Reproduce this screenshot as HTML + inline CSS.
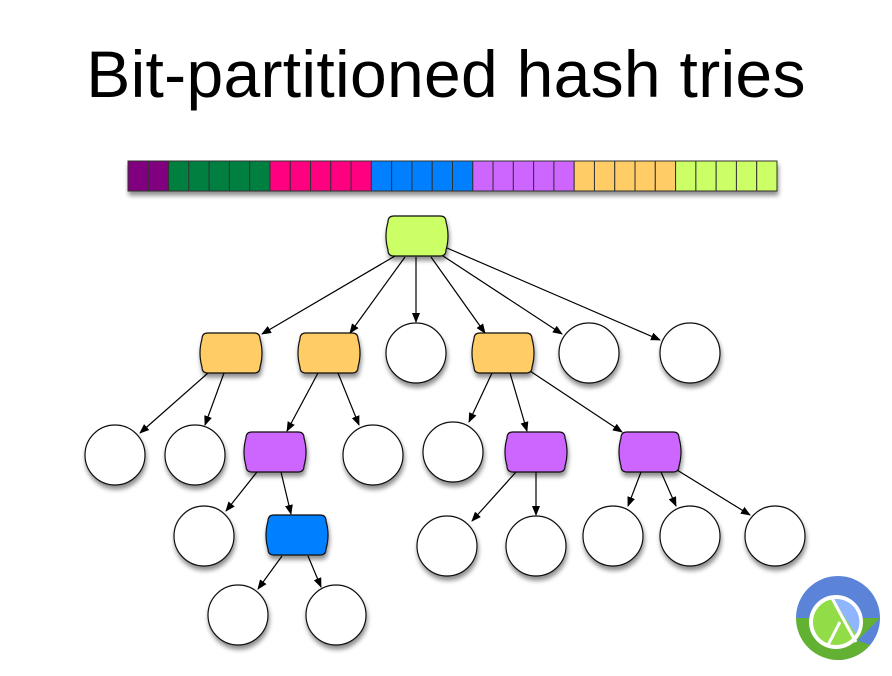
<!DOCTYPE html>
<html><head><meta charset="utf-8"><style>
html,body{margin:0;padding:0;background:#fff;}
.t{position:absolute;left:0;top:36px;width:892px;text-align:center;font-family:"Liberation Sans",sans-serif;font-size:66px;color:#000;letter-spacing:0.3px;}
</style></head><body>
<div style="position:relative;width:892px;height:676px;overflow:hidden">
<div class="t">Bit-partitioned hash tries</div>
<svg width="892" height="676" style="position:absolute;left:0;top:0">
<defs>
<filter id="sh" x="-30%" y="-30%" width="160%" height="170%"><feGaussianBlur in="SourceAlpha" stdDeviation="2.5"/><feOffset dx="1" dy="4"/><feComponentTransfer><feFuncA type="linear" slope="0.45"/></feComponentTransfer><feMerge><feMergeNode/><feMergeNode in="SourceGraphic"/></feMerge></filter>
<marker id="a" markerWidth="10" markerHeight="10" refX="9" refY="4" orient="auto" markerUnits="userSpaceOnUse"><path d="M0,0 L10,4 L0,8 z" fill="#000"/></marker>
</defs>
<g filter="url(#sh)">
<rect x="128" y="161" width="649" height="30" fill="#fff" stroke="#222"/>
<g id="bar" stroke="#333" stroke-width="1"></g>
</g>
<g stroke="#000" stroke-width="1.2" fill="none" marker-end="url(#a)">
<line x1="395" y1="256" x2="262" y2="334"/>
<line x1="405" y1="257" x2="350" y2="333"/>
<line x1="416" y1="257" x2="416" y2="322"/>
<line x1="431" y1="257" x2="485" y2="333"/>
<line x1="440" y1="254" x2="562" y2="334"/>
<line x1="447" y1="248" x2="660" y2="340"/>
<line x1="208" y1="373" x2="140" y2="433"/>
<line x1="224" y1="373" x2="205" y2="425"/>
<line x1="318" y1="373" x2="287" y2="431"/>
<line x1="338" y1="373" x2="359" y2="425"/>
<line x1="492" y1="373" x2="469" y2="422"/>
<line x1="510" y1="373" x2="527" y2="431"/>
<line x1="530" y1="371" x2="622" y2="432"/>
<line x1="257" y1="472" x2="226" y2="511"/>
<line x1="281" y1="472" x2="291" y2="514"/>
<line x1="516" y1="472" x2="472" y2="521"/>
<line x1="536" y1="472" x2="536" y2="515"/>
<line x1="641" y1="472" x2="628" y2="506"/>
<line x1="661" y1="472" x2="676" y2="506"/>
<line x1="677" y1="470" x2="750" y2="515"/>
<line x1="282" y1="556" x2="258" y2="589"/>
<line x1="308" y1="556" x2="321" y2="587"/>
</g>
<g filter="url(#sh)" stroke="#111" stroke-width="1.2">
<g id="nodes"></g>
<g fill="#fff">
<circle cx="416" cy="353" r="30"/><circle cx="589" cy="353" r="30"/><circle cx="690" cy="353" r="30"/>
<circle cx="115" cy="455" r="30"/><circle cx="195" cy="455" r="30"/><circle cx="373" cy="455" r="30"/><circle cx="453" cy="452" r="30"/>
<circle cx="204" cy="536" r="30"/><circle cx="447" cy="546" r="30"/><circle cx="536" cy="546" r="30"/><circle cx="613" cy="536" r="30"/><circle cx="690" cy="536" r="30"/><circle cx="775" cy="536" r="30"/>
<circle cx="238" cy="615" r="30"/><circle cx="336" cy="615" r="30"/>
</g>
</g>
<g>
<path d="M796,618 A42,42 0 0 1 880,618 A42,42 0 0 1 838,660 Z" fill="#5b84d8"/>
<path d="M796,618 A42,42 0 0 0 838,660 L880,618 Z" fill="#63b132"/>
<path d="M796,618 L838,660 A42,42 0 0 0 870,645 Z" fill="#63b132"/>
<circle cx="836" cy="622" r="27" fill="#fff"/>
<circle cx="836" cy="622" r="23" fill="#91dc47"/>
<path d="M836,599 A23,23 0 0 1 856,634 Q846,620 834,599Z" fill="#8fb5fe"/>
<path d="M832,598 Q842,617 856,642" stroke="#fff" stroke-width="3" fill="none"/>
<path d="M840,622 L828,645" stroke="#fff" stroke-width="3" fill="none"/>
</g>
</svg>
<script>
var c=['#800080','#800080','#008040','#008040','#008040','#008040','#008040','#ff0080','#ff0080','#ff0080','#ff0080','#ff0080','#0080ff','#0080ff','#0080ff','#0080ff','#0080ff','#cc66ff','#cc66ff','#cc66ff','#cc66ff','#cc66ff','#ffcc66','#ffcc66','#ffcc66','#ffcc66','#ffcc66','#ccff66','#ccff66','#ccff66','#ccff66','#ccff66'];
var g=document.getElementById('bar'),s='';var w=649/32;
for(var i=0;i<32;i++){s+='<rect x="'+(128+i*w)+'" y="161" width="'+w+'" height="30" fill="'+c[i]+'"/>';}
g.innerHTML=s;
function barrel(x,y,col){var W=60,H=40;
return '<path fill="'+col+'" d="M'+(x+7)+','+y+' H'+(x+W-7)+' Q'+(x+W-1)+','+y+' '+(x+W-1)+','+(y+6)+' Q'+(x+W+3)+','+(y+H/2)+' '+(x+W-1)+','+(y+H-6)+' Q'+(x+W-1)+','+(y+H)+' '+(x+W-7)+','+(y+H)+' H'+(x+7)+' Q'+(x+1)+','+(y+H)+' '+(x+1)+','+(y+H-6)+' Q'+(x-3)+','+(y+H/2)+' '+(x+1)+','+(y+6)+' Q'+(x+1)+','+y+' '+(x+7)+','+y+'Z"/>';}
document.getElementById('nodes').innerHTML=
barrel(387,216,'#ccff66')+barrel(201,333,'#ffcc66')+barrel(299,333,'#ffcc66')+barrel(473,333,'#ffcc66')+
barrel(245,432,'#cc66ff')+barrel(506,432,'#cc66ff')+barrel(620,432,'#cc66ff')+barrel(267,515,'#0080ff');
</script>
</div>
</body></html>
